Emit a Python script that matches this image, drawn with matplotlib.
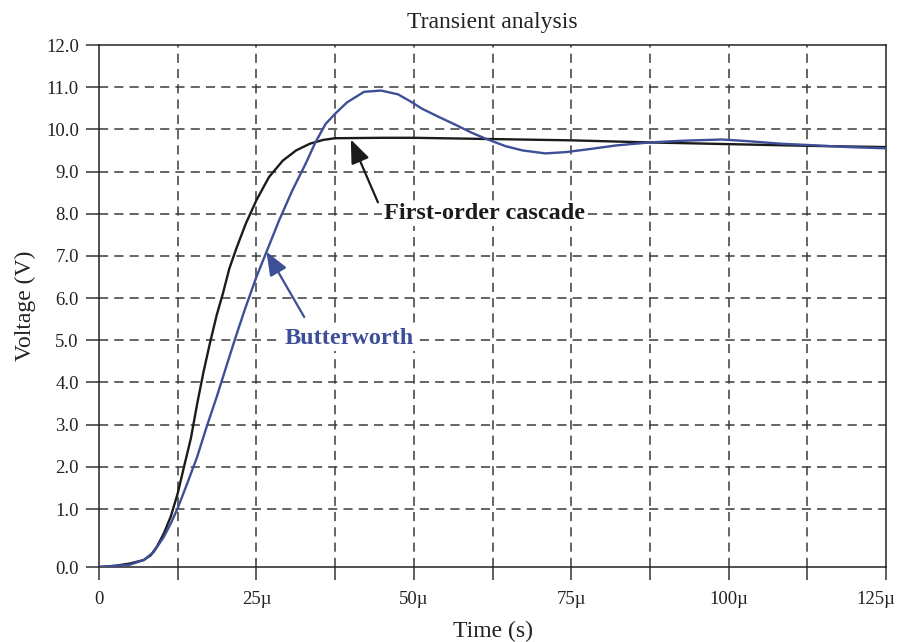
import numpy as np
import matplotlib
matplotlib.use("Agg")
from matplotlib import pyplot as plt
from matplotlib.ticker import FixedLocator, FuncFormatter
from matplotlib.transforms import ScaledTranslation

# Data (time in microseconds, voltage in volts)
cascade_t = [0, 2.5, 4.9, 7.1, 8.2, 9.2, 10.3, 11.4, 12.5, 13.5, 14.6, 15.6,
             16.6, 17.6, 18.7, 19.7, 20.7, 21.8, 23.3, 25.0, 27.0, 29.2,
             31.3, 33.5, 35.6, 37.5, 45, 50, 62.5, 75, 87.5, 100, 112.5, 125]
cascade_v = [0, 0.02, 0.06, 0.12, 0.2, 0.35, 0.58, 0.87, 1.37, 2.0, 2.68,
             3.5, 4.25, 4.92, 5.6, 6.12, 6.7, 7.17, 7.76, 8.32, 8.87, 9.26,
             9.5, 9.66, 9.75, 9.79, 9.8, 9.8, 9.77, 9.74, 9.69, 9.65, 9.61,
             9.58]

butter_t = [0, 2.5, 4.9, 7.1, 8.7, 10.3, 11.4, 12.5, 14.0, 15.6, 17.1, 18.7,
            20.2, 21.8, 23.3, 25.0, 26.8, 28.6, 30.7, 32.8, 34.4, 36.0, 37.5,
            39.4, 42.1, 44.8, 47.5, 49.5, 51.3, 53.9, 56.6, 59.2, 61.4, 64.6,
            67.3, 70.9, 74.1, 77.8, 82.2, 87.5, 92.6, 98.9, 103.1, 108.3,
            112.5, 119, 125]
butter_v = [0, 0.02, 0.04, 0.12, 0.26, 0.52, 0.75, 1.02, 1.6, 2.24, 2.95,
            3.66, 4.37, 5.12, 5.79, 6.5, 7.17, 7.84, 8.55, 9.18, 9.7, 10.13,
            10.37, 10.64, 10.89, 10.92, 10.83, 10.66, 10.49, 10.3, 10.11,
            9.92, 9.78, 9.6, 9.5, 9.43, 9.46, 9.53, 9.62, 9.69, 9.73, 9.76,
            9.72, 9.66, 9.63, 9.58, 9.55]

x_ticks = [0, 12.5, 25, 37.5, 50, 62.5, 75, 87.5, 100, 112.5, 125]
x_labels = {0: "0", 25: "25µ", 50: "50µ", 75: "75µ", 100: "100µ", 125: "125µ"}
y_ticks = list(range(0, 13))

# Fonts
plt.rcParams['font.family'] = ['Liberation Serif', 'DejaVu Serif']

blue = "#3d4f96"
dark = "#1b1b1b"
grid_col = "#3a3a3a"
txt_col = "#222222"

# The 0..1 V band is stretched on the reference axis
k = 1.375
fwd = lambda y: np.where(np.asarray(y) >= 1, y, 1 - (1 - np.asarray(y)) * k)
inv = lambda u: np.where(np.asarray(u) >= 1, u, 1 - (1 - np.asarray(u)) / k)

fig = plt.figure(figsize=(8.97, 6.42), dpi=100)
ax = fig.add_axes([99/897, 1 - 567/642, (886 - 99)/897, (567 - 45)/642])
ax.set_yscale('function', functions=(fwd, inv))

# Grid
for t in x_ticks[1:-1]:
    ax.axvline(t, color=grid_col, lw=1.1, ls=(0, (6, 4)), zorder=1)
for v in y_ticks[1:-1]:
    ax.axhline(v, color=grid_col, lw=1.1, ls=(0, (6, 4)), zorder=1)

# Curves
ax.plot(cascade_t, cascade_v, color=dark, lw=1.7, zorder=3,
        solid_joinstyle='round', solid_capstyle='round')
ax.plot(butter_t, butter_v, color=blue, lw=1.7, zorder=4,
        solid_joinstyle='round', solid_capstyle='round')

ax.set_xlim(0, 125)
ax.set_ylim(0, 12)

ax.xaxis.set_major_locator(FixedLocator(x_ticks))
ax.xaxis.set_major_formatter(FuncFormatter(lambda x, p: x_labels.get(x, "")))
ax.yaxis.set_major_locator(FixedLocator(y_ticks))
ax.yaxis.set_major_formatter(FuncFormatter(lambda y, p: "%.1f" % y))
ax.yaxis.set_minor_locator(FixedLocator([]))

ax.tick_params(axis='both', direction='out', length=9.5, width=1.1,
               color="#333333", labelsize=13.5, labelcolor=txt_col)
ax.tick_params(axis='x', pad=8)
ax.tick_params(axis='y', pad=5)
for s in ax.spines.values():
    s.set_linewidth(1.1)
    s.set_color(txt_col)

ax.set_title("Transient analysis", fontsize=17, color=txt_col, pad=12)
ax.set_xlabel("Time (s)", fontsize=17, color=txt_col, labelpad=9)
ax.set_ylabel("Voltage (V)", fontsize=17, color=txt_col, labelpad=7)

# Annotations
ax.text(45.3, 8.0, "First-order cascade", fontsize=17.5, fontweight='bold',
        color=dark, va='center', ha='left', zorder=6,
        bbox=dict(facecolor='white', edgecolor='none', pad=1.5))
ax.annotate("", xy=(40.0, 9.76), xytext=(44.3, 8.27),
            arrowprops=dict(arrowstyle='-|>,head_length=0.8,head_width=0.32',
                            mutation_scale=18, color=dark, lw=1.6,
                            shrinkA=0, shrinkB=0), zorder=6)
ax.text(29.4, 5.05, "Butterworth", fontsize=17.5, fontweight='bold',
        color=blue, va='center', ha='left', zorder=6,
        bbox=dict(facecolor='white', edgecolor='none', pad=1.5))
ax.annotate("", xy=(26.6, 7.1), xytext=(32.6, 5.55),
            arrowprops=dict(arrowstyle='-|>,head_length=0.8,head_width=0.32',
                            mutation_scale=18, color=blue, lw=1.6,
                            shrinkA=0, shrinkB=0), zorder=6)

# keep the last tick label inside the figure, as on the reference
fig.canvas.draw()
last = ax.xaxis.get_major_ticks()[-1].label1
last.set_horizontalalignment('right')
last.set_transform(last.get_transform() + ScaledTranslation(0.09, 0, fig.dpi_scale_trans))

plt.savefig("out.png", dpi=100)
